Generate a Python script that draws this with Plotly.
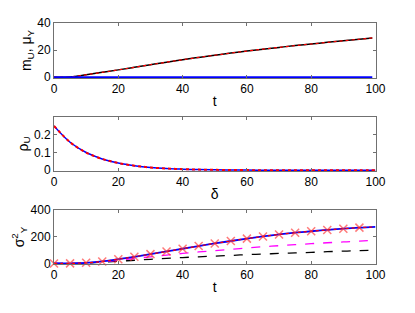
import plotly.graph_objects as go

# Panel 1: means
t1 = [0, 5, 10, 15, 20, 25, 30, 35, 40, 45, 50, 55, 60, 65, 70, 75, 80, 85, 90, 95, 99]
m_U = [0, 0.2, 1.8, 3.6, 5.4, 7.3, 9.2, 11.1, 12.9, 14.6, 16.2, 17.8, 19.3, 20.7, 22.0, 23.3, 24.5, 25.7, 26.9, 28.0, 29.0]
mu_Y = [0] * len(t1)

# Panel 2: correlation
delta = [0, 5, 10, 15, 20, 25, 30, 35, 40, 45, 50, 55, 60, 65, 70, 75, 80, 85, 90, 95, 100]
rho_U = [0.25, 0.158, 0.10, 0.064, 0.041, 0.026, 0.016, 0.010, 0.0065, 0.004, 0.0026,
         0.0017, 0.001, 0.0007, 0.0004, 0.0003, 0.0002, 0.0001, 0.0001, 0, 0]

# Panel 3: variances
t3 = [0, 5, 10, 15, 20, 25, 30, 35, 40, 45, 50, 55, 60, 65, 70, 75, 80, 85, 90, 95, 100]
var_full = [0, 0.5, 5, 15, 32, 50, 70, 90, 110, 130, 150, 168, 186, 202, 217, 230, 241, 251, 260, 268, 274]
var_mag = [0, 0.3, 4, 12, 24, 37, 50, 63, 75, 86, 96, 106, 116, 125, 133, 141, 148, 155, 161, 167, 173]
var_blk = [0, 0.2, 3, 9, 16, 24, 31, 38, 44, 50, 55, 60, 66, 70, 75, 79, 83, 88, 92, 96, 100]
t_mark = t3[:-1]
var_mark = var_full[:-1]

fig = go.Figure()
# panel 1
fig.add_trace(go.Scatter(x=t1, y=m_U, mode="lines", line=dict(color="black", width=1.5, shape="spline"), xaxis="x", yaxis="y"))
fig.add_trace(go.Scatter(x=t1, y=m_U, mode="lines", line=dict(color="red", width=1.2, dash="dot", shape="spline"), xaxis="x", yaxis="y"))
fig.add_trace(go.Scatter(x=t1, y=mu_Y, mode="lines", line=dict(color="blue", width=2), xaxis="x", yaxis="y"))
# panel 2
fig.add_trace(go.Scatter(x=delta, y=rho_U, mode="lines", line=dict(color="blue", width=1.5, shape="spline"), xaxis="x2", yaxis="y2"))
fig.add_trace(go.Scatter(x=delta, y=rho_U, mode="lines", line=dict(color="red", width=2, dash="dot", shape="spline"), xaxis="x2", yaxis="y2"))
# panel 3
fig.add_trace(go.Scatter(x=t3, y=var_blk, mode="lines", line=dict(color="black", width=1.3, dash="dash", shape="spline"), xaxis="x3", yaxis="y3"))
fig.add_trace(go.Scatter(x=t3, y=var_mag, mode="lines", line=dict(color="magenta", width=1.3, dash="dash", shape="spline"), xaxis="x3", yaxis="y3"))
fig.add_trace(go.Scatter(x=t3, y=var_full, mode="lines", line=dict(color="blue", width=1.8, shape="spline"), xaxis="x3", yaxis="y3"))
fig.add_trace(go.Scatter(x=t3, y=var_full, mode="lines", line=dict(color="red", width=1.2, dash="dot", shape="spline"), xaxis="x3", yaxis="y3"))
fig.add_trace(go.Scatter(x=t_mark, y=var_mark, mode="markers", cliponaxis=False,
                         marker=dict(symbol="x-thin", size=8, line=dict(color="rgba(255,50,50,0.65)", width=1.5)),
                         xaxis="x3", yaxis="y3"))

# page body has an 8px margin; figure sized so it fits the 415x313 window
OFF = 8
W, H = 415 - OFF, 313 - OFF
xd = [(54 - OFF) / W, (375.5 - OFF) / W]
def yd(top, bot):
    return [1 - (bot - OFF) / H, 1 - (top - OFF) / H]

font = dict(family="Liberation Sans, Arial, sans-serif", size=12, color="black")
tfont = dict(family="Liberation Sans, Arial, sans-serif", size=14, color="black")
ax_common = dict(showline=True, linecolor="#707070", linewidth=1, mirror="ticks", ticks="inside",
                 ticklen=3, tickcolor="#707070", showgrid=False, zeroline=False, tickfont=font,
                 automargin=False)

fig.update_layout(
    width=W, height=H, margin=dict(l=0, r=0, t=0, b=0),
    paper_bgcolor="white", plot_bgcolor="white", showlegend=False, font=font,
    xaxis=dict(domain=xd, range=[0, 100], tickvals=[0, 20, 40, 60, 80, 100], anchor="y",
               title=dict(text="t", standoff=0, font=tfont), **ax_common),
    yaxis=dict(domain=yd(23, 78), range=[-0.6, 40], tickvals=[0, 20, 40], anchor="x",
               title=dict(text="m<sub>U</sub>, μ<sub>Y</sub>", standoff=2, font=tfont), **ax_common),
    xaxis2=dict(domain=xd, range=[0, 100], tickvals=[0, 20, 40, 60, 80, 100], anchor="y2",
                title=dict(text="δ", standoff=0, font=tfont), **ax_common),
    yaxis2=dict(domain=yd(117, 171), range=[-0.004, 0.3], tickvals=[0, 0.1, 0.2], ticktext=["0", "0.1", "0.2"], anchor="x2",
                title=dict(text="ρ<sub>U</sub>", standoff=2, font=tfont), **ax_common),
    xaxis3=dict(domain=xd, range=[0, 100], tickvals=[0, 20, 40, 60, 80, 100], anchor="y3",
                title=dict(text="t", standoff=0, font=tfont), **ax_common),
    yaxis3=dict(domain=yd(210, 264), range=[-4, 400], tickvals=[0, 200, 400], anchor="x3",
                title=dict(text="σ<sup>2</sup><sub>Y</sub>", standoff=2, font=tfont), **ax_common),
)

fig.write_html("out.html")
